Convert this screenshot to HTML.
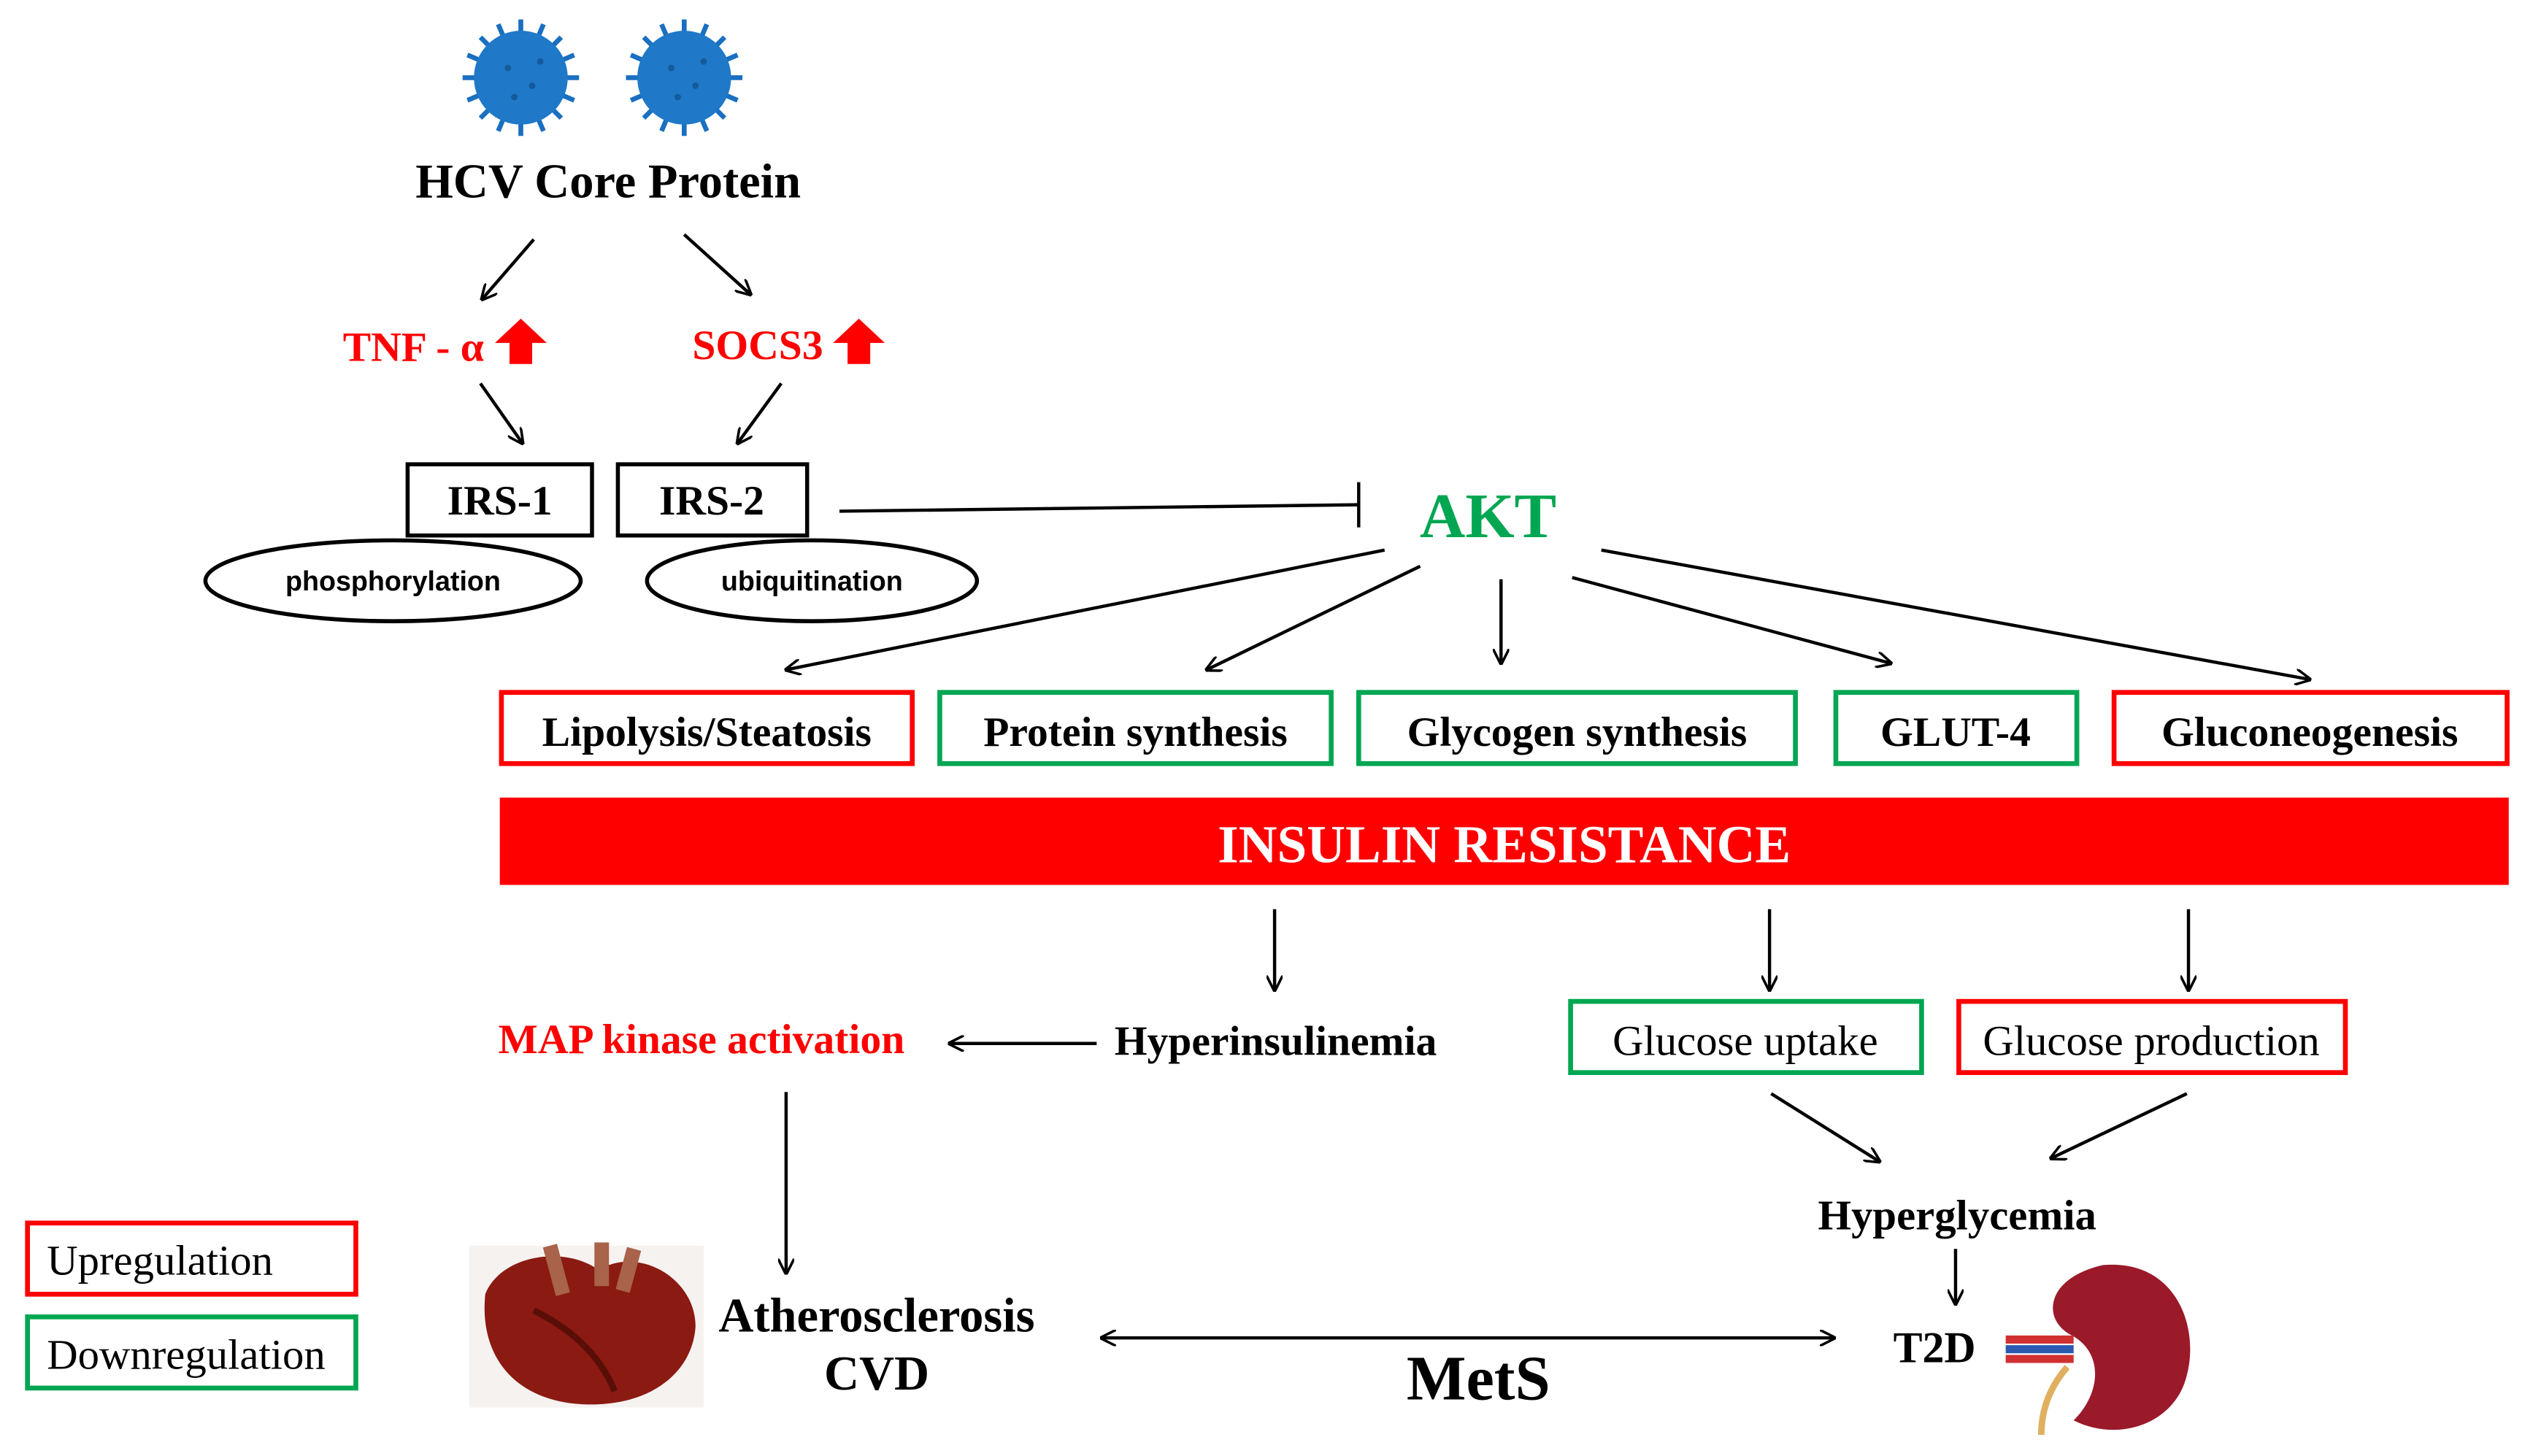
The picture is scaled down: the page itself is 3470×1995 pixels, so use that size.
<!DOCTYPE html>
<html><head><meta charset="utf-8"><style>
html,body{margin:0;padding:0;background:#fff;}
svg{display:block;}
.s{font-family:"Liberation Serif",serif;font-weight:bold;}
.n{font-family:"Liberation Serif",serif;}
.a{font-family:"Liberation Sans",sans-serif;font-weight:bold;}
</style></head><body>
<svg width="3470" height="1995" viewBox="0 0 1566 900" preserveAspectRatio="none" xmlns="http://www.w3.org/2000/svg">
<defs>
<marker id="ah" markerWidth="10" markerHeight="10" refX="9" refY="5" orient="auto" markerUnits="userSpaceOnUse">
<path d="M0,0 L10,5 L0,10" fill="none" stroke="#000" stroke-width="1.6"/></marker>
<marker id="ahs" markerWidth="10" markerHeight="10" refX="1" refY="5" orient="auto" markerUnits="userSpaceOnUse">
<path d="M10,0 L0,5 L10,10" fill="none" stroke="#000" stroke-width="1.6"/></marker>
<g id="virus">
<g stroke="#1a6fc0" stroke-width="3">
<line x1="0" y1="-36" x2="0" y2="36"/><line x1="-36" y1="0" x2="36" y2="0"/>
<line x1="-25" y1="-25" x2="25" y2="25"/><line x1="-25" y1="25" x2="25" y2="-25"/>
<line x1="-14" y1="-33" x2="14" y2="33"/><line x1="14" y1="-33" x2="-14" y2="33"/>
<line x1="-33" y1="-14" x2="33" y2="14"/><line x1="-33" y1="14" x2="33" y2="-14"/>
</g>
<circle r="29" fill="#1f78c8"/>
<circle cx="-8" cy="-6" r="2" fill="#155a9a"/><circle cx="7" cy="5" r="2" fill="#155a9a"/><circle cx="-4" cy="12" r="2" fill="#155a9a"/><circle cx="12" cy="-10" r="2" fill="#155a9a"/>
</g>
</defs>
<use href="#virus" x="322" y="48"/>
<use href="#virus" x="423" y="48"/>
<text class="s" x="376" y="122" font-size="30" text-anchor="middle">HCV Core Protein</text>
<g stroke="#000" stroke-width="2" fill="none" marker-end="url(#ah)">
<line x1="330" y1="148" x2="298" y2="185"/>
<line x1="423" y1="145" x2="464" y2="182"/>
<line x1="297" y1="237" x2="323" y2="274"/>
<line x1="483" y1="237" x2="456" y2="274"/>
<line x1="856" y1="340" x2="486" y2="414"/>
<line x1="878" y1="350" x2="746" y2="414"/>
<line x1="928" y1="358" x2="928" y2="410"/>
<line x1="972" y1="357" x2="1169" y2="410"/>
<line x1="990" y1="340" x2="1428" y2="420"/>
<line x1="788" y1="562" x2="788" y2="612"/>
<line x1="1094" y1="562" x2="1094" y2="612"/>
<line x1="1353" y1="562" x2="1353" y2="612"/>
<line x1="678" y1="645" x2="587" y2="645"/>
<line x1="1095" y1="676" x2="1162" y2="718"/>
<line x1="1352" y1="676" x2="1268" y2="716"/>
<line x1="1209" y1="772" x2="1209" y2="806"/>
<line x1="486" y1="675" x2="486" y2="787"/>
<line x1="681" y1="827" x2="1134" y2="827" marker-start="url(#ahs)"/>
</g>
<text class="s" x="212" y="223" font-size="26" fill="#f00">TNF - α</text>
<path d="M322,197 L338,212 L329,212 L329,225 L315,225 L315,212 L306,212 Z" fill="#f00"/>
<text class="s" x="428" y="222" font-size="26" fill="#f00">SOCS3</text>
<path d="M531,197 L547,212 L538,212 L538,225 L524,225 L524,212 L515,212 Z" fill="#f00"/>
<rect x="252" y="287" width="114" height="44" fill="none" stroke="#000" stroke-width="2.5"/>
<rect x="382" y="287" width="117" height="44" fill="none" stroke="#000" stroke-width="2.5"/>
<text class="s" x="309" y="318" font-size="26" text-anchor="middle">IRS-1</text>
<text class="s" x="440" y="318" font-size="26" text-anchor="middle">IRS-2</text>
<ellipse cx="243" cy="359" rx="116" ry="25" fill="#fff" stroke="#000" stroke-width="2.5"/>
<ellipse cx="502" cy="359" rx="102" ry="25" fill="#fff" stroke="#000" stroke-width="2.5"/>
<text class="a" x="243" y="365" font-size="17" text-anchor="middle">phosphorylation</text>
<text class="a" x="502" y="365" font-size="17" text-anchor="middle">ubiquitination</text>
<line x1="519" y1="316" x2="840" y2="312" stroke="#000" stroke-width="2"/>
<line x1="840" y1="298" x2="840" y2="326" stroke="#000" stroke-width="2"/>
<text class="s" x="920" y="332" font-size="39" fill="#00a651" text-anchor="middle">AKT</text>
<g fill="none" stroke-width="3">
<rect x="310" y="428" width="254" height="44" stroke="#f00"/>
<rect x="581" y="428" width="242" height="44" stroke="#00a651"/>
<rect x="840" y="428" width="270" height="44" stroke="#00a651"/>
<rect x="1135" y="428" width="149" height="44" stroke="#00a651"/>
<rect x="1307" y="428" width="243" height="44" stroke="#f00"/>
<rect x="971" y="619" width="217" height="44" stroke="#00a651"/>
<rect x="1211" y="619" width="239" height="44" stroke="#f00"/>
<rect x="17" y="756" width="203" height="44" stroke="#f00"/>
<rect x="17" y="814" width="203" height="44" stroke="#00a651"/>
</g>
<g class="s" font-size="26" text-anchor="middle">
<text x="437" y="461">Lipolysis/Steatosis</text>
<text x="702" y="461">Protein synthesis</text>
<text x="975" y="461">Glycogen synthesis</text>
<text x="1209" y="461">GLUT-4</text>
<text x="1428" y="461">Gluconeogenesis</text>
</g>
<rect x="309" y="493" width="1242" height="54" fill="#f00"/>
<text class="s" x="930" y="533" font-size="33" fill="#fff" text-anchor="middle">INSULIN RESISTANCE</text>
<text class="s" x="308" y="651" font-size="26" fill="#f00">MAP kinase activation</text>
<text class="s" x="689" y="652" font-size="26">Hyperinsulinemia</text>
<text class="n" x="1079" y="652" font-size="26.5" text-anchor="middle">Glucose uptake</text>
<text class="n" x="1330" y="652" font-size="26.5" text-anchor="middle">Glucose production</text>
<text class="s" x="1210" y="760" font-size="26.5" text-anchor="middle">Hyperglycemia</text>
<text class="s" x="1196" y="842" font-size="27" text-anchor="middle">T2D</text>
<text class="s" x="542" y="823" font-size="30" text-anchor="middle">Atherosclerosis</text>
<text class="s" x="542" y="859" font-size="30" text-anchor="middle">CVD</text>
<text class="s" x="914" y="865" font-size="39" text-anchor="middle">MetS</text>
<text class="n" x="29" y="788" font-size="26.5">Upregulation</text>
<text class="n" x="29" y="846" font-size="26.5">Downregulation</text>
<!-- heart -->
<rect x="290" y="770" width="145" height="100" fill="#f6f2f0"/>
<path d="M300,800 C310,775 350,770 370,785 C395,770 430,790 430,820 C428,850 400,870 360,868 C320,866 296,840 300,800 Z" fill="#8b1a12"/>
<path d="M340,770 L348,800 M372,768 L372,795 M392,772 L385,798" stroke="#a8634a" stroke-width="9" fill="none"/>
<path d="M330,810 C350,820 370,835 380,860" stroke="#5a0e08" stroke-width="4" fill="none"/>
<!-- kidney -->
<path d="M1300,782 C1345,778 1360,820 1352,850 C1345,880 1310,892 1282,878 C1300,860 1300,835 1280,825 C1262,815 1265,790 1300,782 Z" fill="#9a1a2a"/>
<path d="M1240,828 L1282,828 M1240,840 L1282,840" stroke="#d03030" stroke-width="5"/>
<path d="M1240,834 L1282,834" stroke="#2a5ab0" stroke-width="5"/>
<path d="M1278,845 C1265,860 1262,875 1262,887" stroke="#e0b060" stroke-width="4" fill="none"/>
</svg>
</body></html>
